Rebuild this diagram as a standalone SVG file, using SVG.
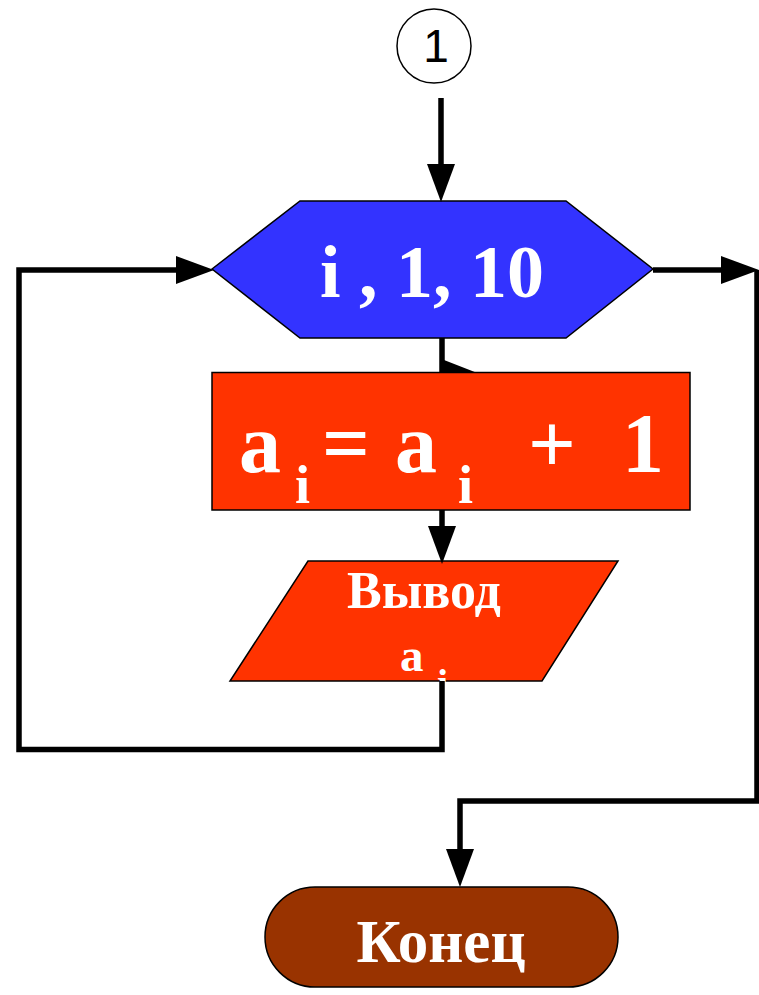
<svg xmlns="http://www.w3.org/2000/svg" width="759" height="995" viewBox="0 0 759 995">
<style>
  .shape { stroke: #000; stroke-width: 1.5; }
  .lbl { font-family: "Liberation Serif", "Times New Roman", serif; font-weight: bold; fill: #fff; }
  .conn { fill: none; stroke: #000; stroke-width: 5.5; stroke-linejoin: miter; }
</style>
<defs>
  <marker id="ah" viewBox="0 0 38 28" refX="18" refY="14" markerUnits="userSpaceOnUse" markerWidth="38" markerHeight="28" orient="auto">
    <path d="M0,0 L38,14 L0,28 Z" fill="#000"/>
  </marker>
</defs>
<rect width="759" height="995" fill="#fff"/>

<g id="connector-node">
  <circle cx="434" cy="46" r="37" fill="#fff" stroke="#000" stroke-width="1.5"/>
  <text x="436" y="62" font-family="Liberation Sans, Arial, sans-serif" font-size="46" text-anchor="middle" fill="#000">1</text>
</g>

<g id="loop">
  <polygon class="shape" points="212,269 300,201 566,201 653,269 566,338 300,338" fill="#3333FF"/>
  <text class="lbl" x="432" y="297" font-size="74" text-anchor="middle">i , 1, 10</text>
</g>

<g id="assign">
  <rect class="shape" x="212" y="372.5" width="478" height="137.5" fill="#FF3300"/>
  <text class="lbl" font-size="84" y="472">
    <tspan x="239">a</tspan><tspan x="322">=</tspan><tspan x="395">a</tspan><tspan x="528">+</tspan><tspan x="622">1</tspan>
  </text>
  <text class="lbl" font-size="54" y="503"><tspan x="295">i</tspan><tspan x="458">i</tspan></text>
</g>

<g id="output">
  <polygon class="shape" points="308,561 618,561 542,681 230,681" fill="#FF3300"/>
  <text class="lbl" x="424" y="608" font-size="52" text-anchor="middle">Вывод</text>
  <text class="lbl" x="400" y="671" font-size="47">a</text>
  <text class="lbl" x="437" y="697" font-size="40">i</text>
</g>

<g id="end">
  <rect class="shape" x="265" y="887" width="353" height="100" rx="50" ry="50" fill="#993300"/>
  <text class="lbl" x="441" y="962" font-size="61" text-anchor="middle">Конец</text>
</g>

<g id="connectors">
  <path class="conn" d="M441,98 V182" marker-end="url(#ah)"/>
  <path class="conn" d="M442,338 V372"/>
  <polygon points="444,360 476,372.5 444,372.5" fill="#000"/>
  <path class="conn" d="M442,510 V544" marker-end="url(#ah)"/>
  <path class="conn" d="M442,681 V749.5 H19 V270 H194" marker-end="url(#ah)"/>
  <path class="conn" d="M653,270 H739" marker-end="url(#ah)"/>
  <path class="conn" d="M757,270 V801 H460 V867" marker-end="url(#ah)"/>
</g>
</svg>
